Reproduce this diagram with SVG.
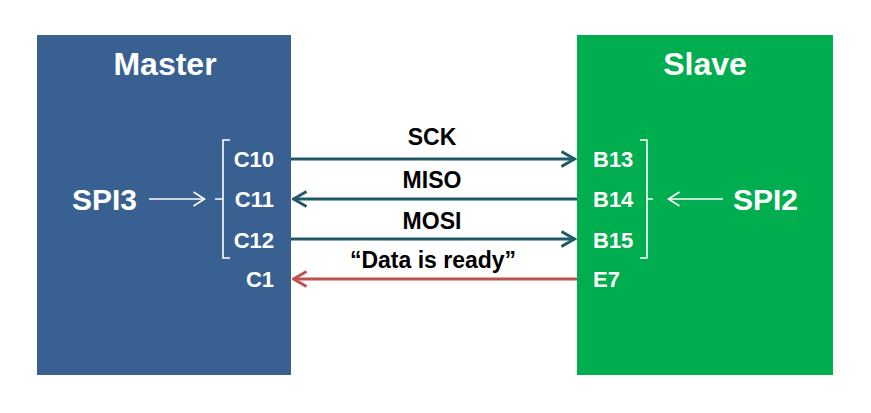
<svg xmlns="http://www.w3.org/2000/svg" width="871" height="413" viewBox="0 0 871 413">
<defs>
<style>
.t{font-family:"Liberation Sans",Arial,sans-serif;font-weight:bold}
.w{fill:#fff}
.title{font-size:32px}
.spi{font-size:30px}
.pin{font-size:22px}
.lbl{font-size:23px;fill:#000}
.br{fill:none;stroke:#fff;stroke-width:1.6}
.sig{fill:none;stroke:#215968;stroke-width:3}
.rdy{fill:none;stroke:#C0504D;stroke-width:3}
</style>
<marker id="ah" viewBox="0 0 16 18" refX="14.5" refY="9" markerWidth="16" markerHeight="18" markerUnits="userSpaceOnUse" orient="auto">
<path d="M1,1.5 L14,9 L1,16.5" fill="none" stroke="#215968" stroke-width="3"/>
</marker>
<marker id="ahr" viewBox="0 0 16 18" refX="14.5" refY="9" markerWidth="16" markerHeight="18" markerUnits="userSpaceOnUse" orient="auto">
<path d="M1,1.5 L14,9 L1,16.5" fill="none" stroke="#C0504D" stroke-width="3"/>
</marker>
<marker id="ahw" viewBox="0 0 14 16" refX="12.5" refY="8" markerWidth="14" markerHeight="16" markerUnits="userSpaceOnUse" orient="auto">
<path d="M1,1 L12,8 L1,15" fill="none" stroke="#fff" stroke-width="1.6"/>
</marker>
</defs>
<rect width="871" height="413" fill="#fff"/>
<g id="master">
<rect x="37" y="35" width="254" height="340" fill="#386192"/>
<text class="t w title" x="165" y="75" text-anchor="middle">Master</text>
<text class="t w spi" x="72" y="210">SPI3</text>
<path class="br" d="M230,140 H223 V258 H230 M223,199 H215"/>
<g class="t w pin" text-anchor="end">
<text x="274" y="167">C10</text>
<text x="274" y="207">C11</text>
<text x="274" y="248">C12</text>
<text x="274" y="287">C1</text>
</g>
</g>
<g id="slave">
<rect x="577" y="35" width="256" height="340" fill="#00AE4F"/>
<text class="t w title" x="705" y="75" text-anchor="middle">Slave</text>
<text class="t w spi" x="733" y="210">SPI2</text>
<path class="br" d="M640,140 H647 V258 H640 M647,199 H653"/>
<g class="t w pin">
<text x="593" y="167">B13</text>
<text x="593" y="207">B14</text>
<text x="593" y="248">B15</text>
<text x="593" y="287">E7</text>
</g>
</g>
<g id="connectors">
<line x1="149" y1="199" x2="205" y2="199" stroke="#fff" stroke-width="1.6" marker-end="url(#ahw)"/>
<line x1="723" y1="199" x2="668" y2="199" stroke="#fff" stroke-width="1.6" marker-end="url(#ahw)"/>
<line class="sig" x1="291" y1="159" x2="575" y2="159" marker-end="url(#ah)"/>
<line class="sig" x1="577" y1="199" x2="293" y2="199" marker-end="url(#ah)"/>
<line class="sig" x1="291" y1="239" x2="575" y2="239" marker-end="url(#ah)"/>
<line class="rdy" x1="577" y1="279" x2="293" y2="279" marker-end="url(#ahr)"/>
<g class="t lbl" text-anchor="middle">
<text x="432" y="145">SCK</text>
<text x="432" y="188">MISO</text>
<text x="432" y="229">MOSI</text>
<text x="433" y="268">“Data is ready”</text>
</g>
</g>
</svg>
